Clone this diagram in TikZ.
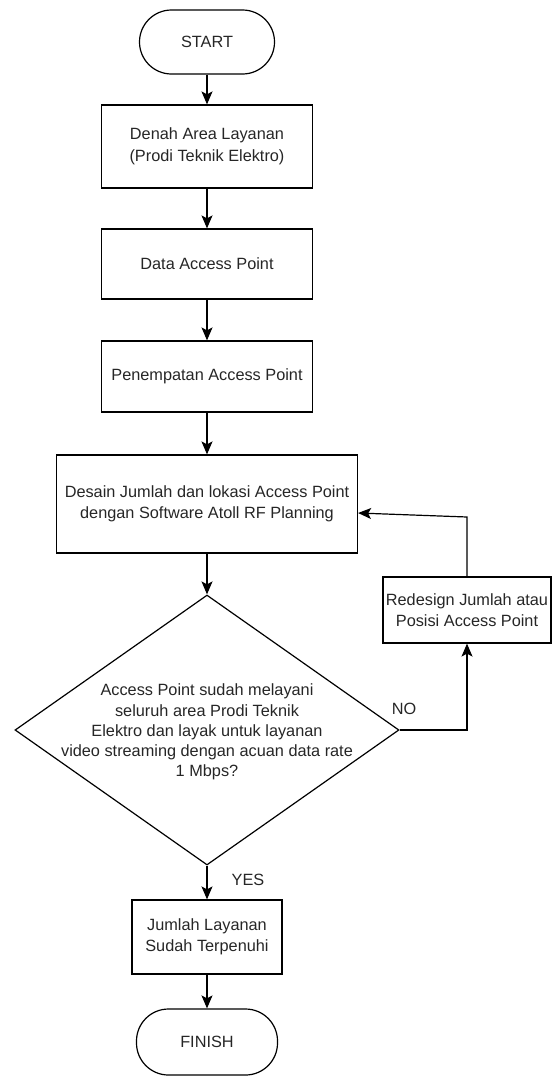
\documentclass[tikz,border=0pt]{standalone}
\usepackage{fontspec}
\setmainfont{Liberation Sans}
\usetikzlibrary{shapes.geometric,arrows.meta}
\begin{document}
\begin{tikzpicture}[x=1pt,y=-1pt,
  every node/.style={font=\fontsize{16.3}{21.5}\selectfont, text=black!85},
  box/.style={draw, line width=1.2pt, align=center, inner sep=0pt},
  term/.style={draw, line width=1.2pt, rounded corners=32pt, inner sep=0pt},
  arr/.style={line width=1.2pt, -{Stealth[length=13pt,width=11pt,inset=3pt]}},
  lbl/.style={inner sep=0pt}
]
\useasboundingbox (0,0) rectangle (552,1076);
\node[term, minimum width=135pt, minimum height=64pt] (start) at (207,42) {START};
\node[box, minimum width=211pt, minimum height=83pt] (b1) at (207,146.5) {Denah Area Layanan\\(Prodi Teknik Elektro)};
\node[box, minimum width=211pt, minimum height=70pt] (b2) at (207,264) {Data Access Point};
\node[box, minimum width=211pt, minimum height=71pt] (b3) at (207,376.5) {Penempatan Access Point};
\node[box, minimum width=301pt, minimum height=98pt] (b4) at (207,504) {Desain Jumlah dan lokasi Access Point\\dengan Software Atoll RF Planning};
\node[draw, diamond, line width=1.2pt, minimum width=384pt, minimum height=270pt, inner sep=0pt] (dia) at (207,730) {};
\node[align=center, font=\fontsize{16.3}{20.2}\selectfont, inner sep=0pt] (diatext) at (207,732) {Access Point sudah melayani\\seluruh area Prodi Teknik\\Elektro dan layak untuk layanan\\video streaming dengan acuan data rate\\1 Mbps?};
\node[box, minimum width=168pt, minimum height=66pt] (re) at (467,610) {Redesign Jumlah atau\\Posisi Access Point};
\node[box, minimum width=150pt, minimum height=74pt] (b5) at (207,937) {Jumlah Layanan\\Sudah Terpenuhi};
\node[term, minimum width=141pt, minimum height=66pt] (finish) at (207,1042) {FINISH};
\coordinate (c1) at (467,517);
\node[lbl] (no) at (404,709) {NO};
\node[lbl] (yes) at (248,880) {YES};
\draw[arr] (start) -- (b1);
\draw[arr] (b1) -- (b2);
\draw[arr] (b2) -- (b3);
\draw[arr] (b3) -- (b4);
\draw[arr] (b4) -- (dia);
\draw[arr] (dia.east) -| (re.south);
\draw[arr] (re.north) -- (c1) -- ([yshift=-9pt]b4.east);
\draw[arr] (dia) -- (b5);
\draw[arr] (b5) -- (finish);
\end{tikzpicture}
\end{document}
